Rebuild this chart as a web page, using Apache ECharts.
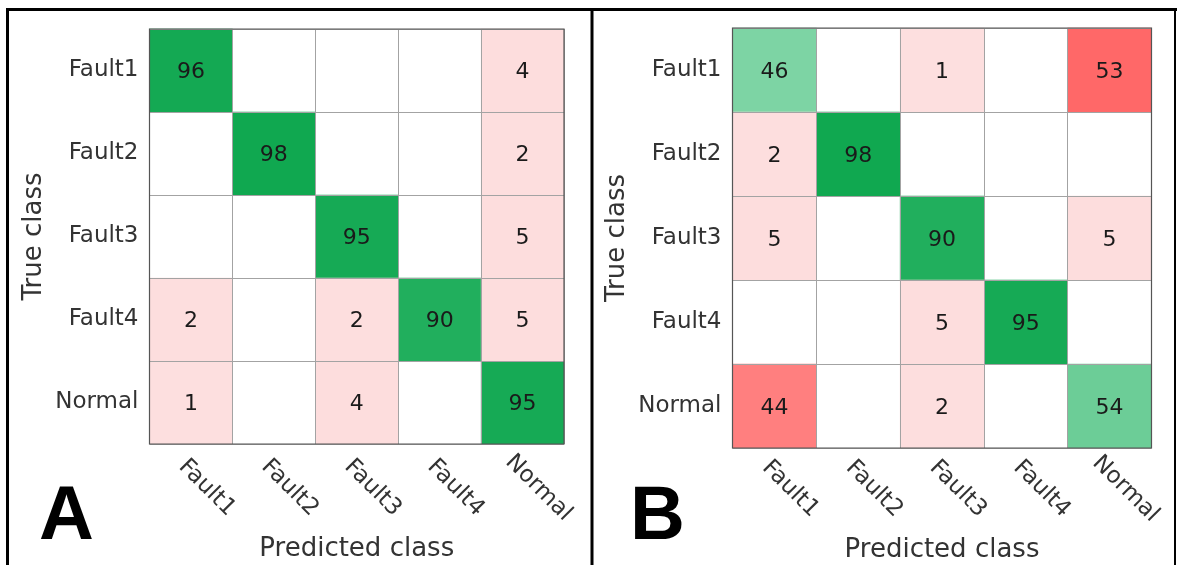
<!DOCTYPE html>
<html>
<head>
<meta charset="utf-8">
<script src="https://cdn.jsdelivr.net/npm/echarts@6/dist/echarts.min.js"></script>
<style>
  html, body { margin: 0; padding: 0; background: #ffffff; }
  #chart { width: 1177px; height: 565px; }
</style>
</head>
<body>
<div id="chart"></div>
<script>
// Class names shared by both confusion matrices (rows = true, columns = predicted)
const classes = ['Fault1', 'Fault2', 'Fault3', 'Fault4', 'Normal'];

// Confusion matrix A (percent, 0 = empty cell)
const matrixA = [
  [96, 0, 0, 0, 4],
  [0, 98, 0, 0, 2],
  [0, 0, 95, 0, 5],
  [2, 0, 2, 90, 5],
  [1, 0, 4, 0, 95]
];

// Confusion matrix B (percent, 0 = empty cell)
const matrixB = [
  [46, 0, 1, 0, 53],
  [2, 98, 0, 0, 0],
  [5, 0, 90, 0, 5],
  [0, 0, 5, 95, 0],
  [44, 0, 2, 0, 54]
];

const panelLetters = ['A', 'B'];
const xTitle = 'Predicted class';
const yTitle = 'True class';

const FONT = 'DejaVu Sans';

// Split a matrix into correct (diagonal) and misclassified (off-diagonal) cells
function cells(matrix, diagonal) {
  const out = [];
  matrix.forEach((row, r) => {
    row.forEach((v, c) => {
      if (v === 0) return;
      if ((r === c) === diagonal) out.push([c, r, v]);
    });
  });
  return out;
}

const grids = [
  { left: 149.5, top: 29, width: 414.5, height: 415 },
  { left: 732.5, top: 28, width: 419, height: 420 }
];
// per-panel spacing of the slanted tick labels and the x-axis title
const xLabelMargin = [28, 25];
const xNameGap = [92, 89];

const xAxes = [], yAxes = [], series = [], visualMaps = [];
[matrixA, matrixB].forEach((m, i) => {
  xAxes.push({
    type: 'category', gridIndex: i, data: classes, position: 'bottom', z: 4,
    axisLine: { show: false }, axisTick: { show: false },
    splitLine: { show: true, interval: 0, lineStyle: { color: '#a3a3a3', width: 1 } },
    // slanted labels: centred box with extra left padding so each word starts just left of its column centre
    axisLabel: {
      interval: 0, rotate: -45, margin: xLabelMargin[i], fontSize: 23, color: '#333', fontFamily: FONT,
      align: 'center', verticalAlign: 'middle', padding: [0, 0, 0, 45]
    },
    name: xTitle, nameLocation: 'middle', nameGap: xNameGap[i],
    nameTextStyle: { fontSize: 26, color: '#333', fontFamily: FONT }
  });
  yAxes.push({
    type: 'category', gridIndex: i, data: classes, inverse: true, z: 4,
    axisLine: { show: false }, axisTick: { show: false },
    splitLine: { show: true, interval: 0, lineStyle: { color: '#a3a3a3', width: 1 } },
    axisLabel: { interval: 0, margin: 11, fontSize: 23, color: '#333', fontFamily: FONT, padding: [7, 0, 0, 0] },
    name: yTitle, nameLocation: 'middle', nameGap: 102,
    nameTextStyle: { fontSize: 26, color: '#333', fontFamily: FONT }
  });
  const label = {
    show: true, fontSize: 22, color: '#1a1a1a', fontFamily: FONT, offset: [0, 2],
    formatter: p => String(p.value[2])
  };
  series.push({
    type: 'heatmap', xAxisIndex: i, yAxisIndex: i, data: cells(m, true), label,
    itemStyle: { borderWidth: 0 }, emphasis: { disabled: true }
  });
  series.push({
    type: 'heatmap', xAxisIndex: i, yAxisIndex: i, data: cells(m, false), label,
    itemStyle: { borderWidth: 0 }, emphasis: { disabled: true }
  });
  // correct predictions: pale to deep green
  visualMaps.push({
    type: 'continuous', show: false, seriesIndex: i * 2, dimension: 2,
    min: 0, max: 100, inRange: { color: ['#ddfbee', '#0ca64d'] }
  });
  // misclassifications: small shares stay pale pink, large ones turn red
  visualMaps.push({
    type: 'continuous', show: false, seriesIndex: i * 2 + 1, dimension: 2,
    min: 0, max: 60,
    inRange: { color: ['#fddfdf', '#fddbdb', '#fec0c0', '#ffa5a5', '#ff8a8a', '#ff6f6f', '#ff5858'] }
  });
});

const frame = [
  { type: 'rect', shape: { x: 6, y: 8, width: 1171, height: 3 }, style: { fill: '#000' } },
  { type: 'rect', shape: { x: 6, y: 8, width: 3, height: 560 }, style: { fill: '#000' } },
  { type: 'rect', shape: { x: 590.5, y: 8, width: 3, height: 560 }, style: { fill: '#000' } },
  { type: 'rect', shape: { x: 1174, y: 8, width: 2, height: 560 }, style: { fill: '#000' } },
  { type: 'text', left: 39, top: 480, style: { text: panelLetters[0], font: 'bold 76px "Liberation Sans", Arial, sans-serif', fill: '#000' } },
  { type: 'text', left: 630, top: 480, style: { text: panelLetters[1], font: 'bold 76px "Liberation Sans", Arial, sans-serif', fill: '#000' } }
];

const chart = echarts.init(document.getElementById('chart'), null, { renderer: 'canvas' });
chart.setOption({
  backgroundColor: '#ffffff',
  animation: false,
  // fixed grid boxes: keep them from being shrunk to fit the axis titles
  grid: grids.map(g => Object.assign({
    show: true, z: 5, backgroundColor: 'transparent', borderColor: '#555', borderWidth: 1.2,
    containLabel: false, outerBoundsMode: 'none'
  }, g)),
  xAxis: xAxes,
  yAxis: yAxes,
  visualMap: visualMaps,
  series: series,
  graphic: frame
});
</script>
</body>
</html>
